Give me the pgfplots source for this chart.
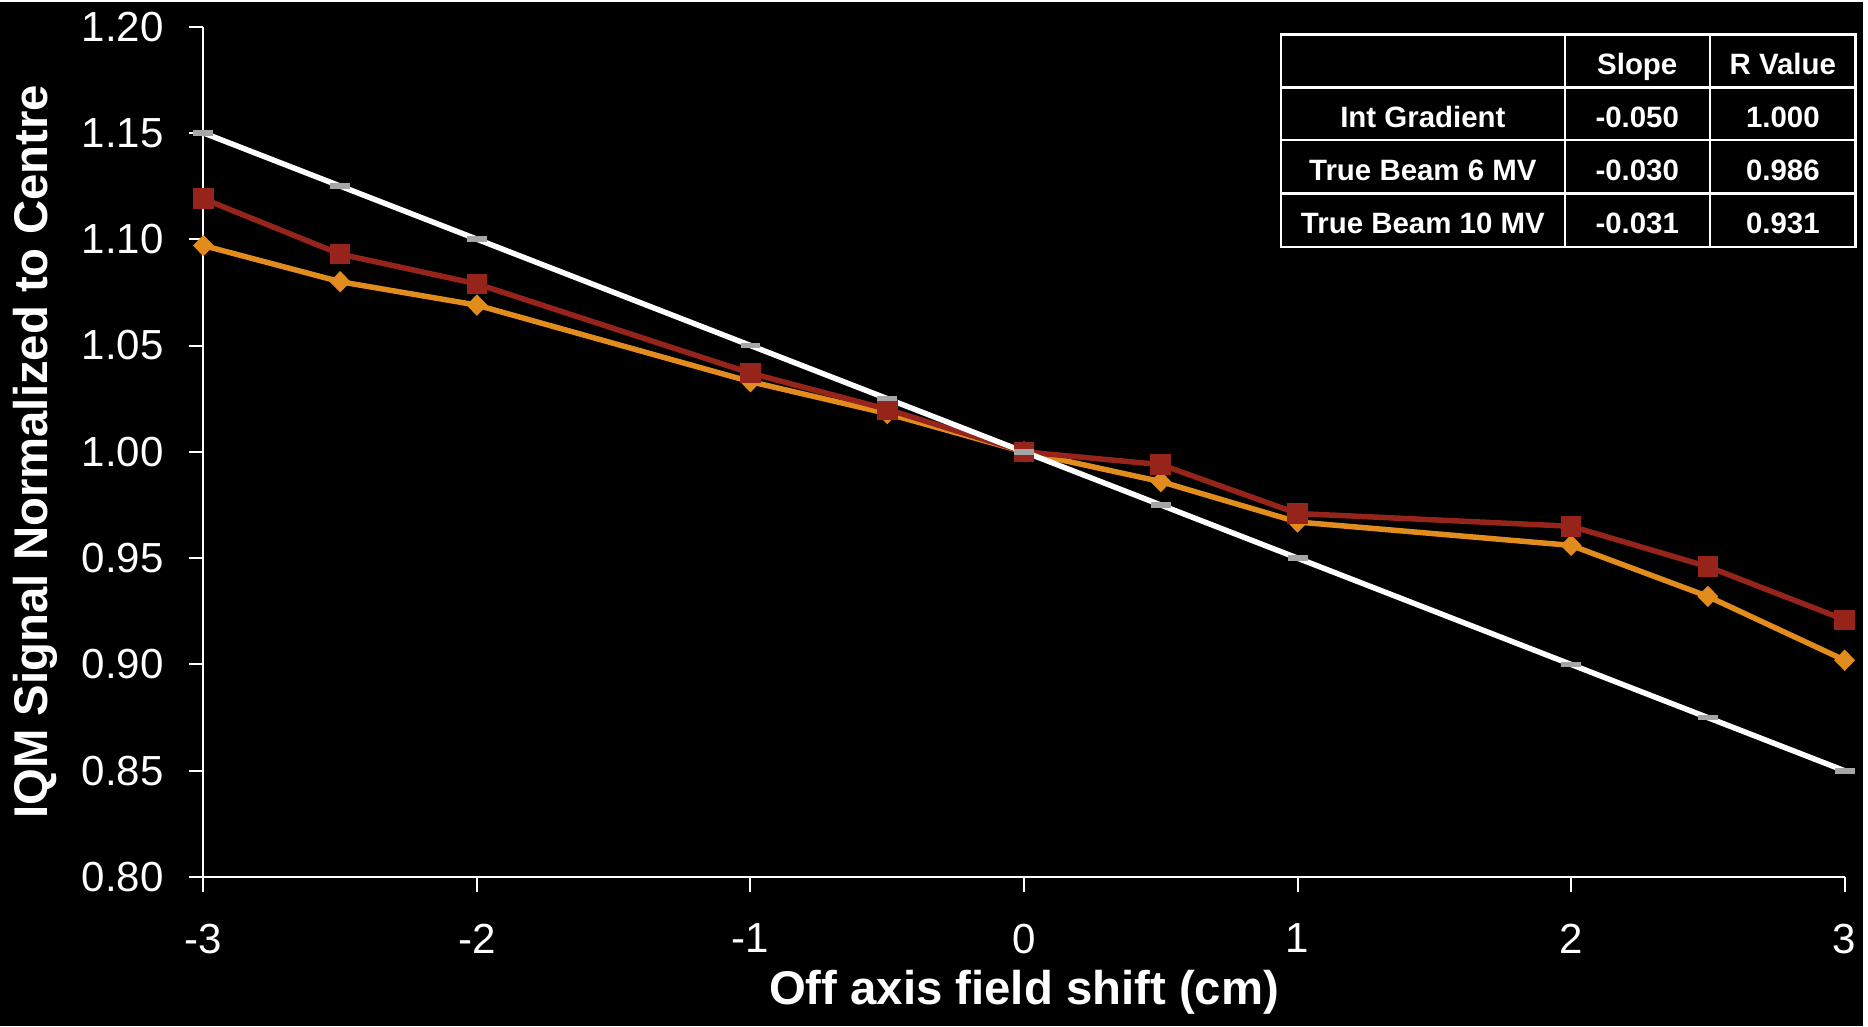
\documentclass[border=0pt]{standalone}
\usepackage{pgfplots}
\pgfplotsset{compat=1.18}
\usepackage{fontspec}
\setmainfont{Liberation Sans}
\definecolor{redS}{RGB}{150,36,26}
\definecolor{orS}{RGB}{226,140,30}
\definecolor{grayM}{RGB}{166,166,166}
\pgfplotstableread{
x    grad   tb6    tb10
-3   1.150  1.119  1.097
-2.5 1.125  1.093  1.080
-2   1.100  1.079  1.069
-1   1.050  1.037  1.033
-0.5 1.025  1.020  1.018
0    1.000  1.000  1.000
0.5  0.975  0.994  0.986
1    0.950  0.971  0.967
2    0.900  0.965  0.956
2.5  0.875  0.946  0.932
3    0.850  0.921  0.902
}\datatab
\begin{document}
\begin{tikzpicture}
\fill[black] (-20.4mm,-14.9mm) rectangle (166.4mm,87.8mm);
\begin{axis}[
 scale only axis, width=164.6mm, height=85.3mm,
 xmin=-3, xmax=3, ymin=0.8, ymax=1.2,
 axis x line*=bottom, axis y line*=left,
 axis line style={white, line width=0.2mm, -},
 xtick={-3,-2,-1,0,1,2,3},
 ytick={0.8,0.85,0.9,0.95,1.0,1.05,1.1,1.15,1.2},
 tick align=outside, major tick length=1.45mm,
 tick style={white, line width=0.2mm},
 /pgf/number format/assume math mode=true,
 ticklabel style={font=\fontsize{12}{14}\selectfont, text=white},
 y tick label style={xshift=-1.3mm, /pgf/number format/.cd, fixed, fixed zerofill, precision=2, /tikz/.cd},
 x tick label style={yshift=-2mm},
 xlabel={\textcolor{white}{Off axis field shift (cm)}},
 ylabel={\textcolor{white}{IQM Signal Normalized to Centre}},
 xlabel style={font=\bfseries\fontsize{13.5}{16}\selectfont, at={(rel axis cs:0.5,0)}, yshift=-11.6mm, anchor=center},
 ylabel style={font=\bfseries\fontsize{13.5}{16}\selectfont, at={(rel axis cs:0,0.5)}, yshift=16.9mm, anchor=center},
 clip=false,
]
\addplot[orS, line width=0.55mm, mark=diamond*, mark size=2.85pt, mark options={fill=orS, draw=orS, line width=0.1mm, xscale=1.3}] table[x=x, y=tb10] {\datatab};
\addplot[redS, line width=0.55mm, mark=square*, mark size=2.8pt, mark options={fill=redS, draw=redS, line width=0.1mm}] table[x=x, y=tb6] {\datatab};
\addplot[white, line width=0.55mm, mark=-, mark size=1.0mm, mark options={draw=grayM, line width=0.55mm}] table[x=x, y=grad] {\datatab};
\end{axis}
\begin{scope}[white, line width=0.25mm]
\draw (108.05mm,63.2mm) rectangle (165.7mm,84.5mm);
\draw (108.05mm,79.2mm) -- (165.7mm,79.2mm);
\draw (108.05mm,73.9mm) -- (165.7mm,73.9mm);
\draw (108.05mm,68.57mm) -- (165.7mm,68.57mm);
\draw (136.54mm,63.2mm) -- (136.54mm,84.5mm);
\draw (151.07mm,63.2mm) -- (151.07mm,84.5mm);
\end{scope}
\begin{scope}[every node/.style={text=white, font=\bfseries\fontsize{8.4}{10}\selectfont, anchor=base, inner sep=0pt}]
\node at (143.8mm,80.5mm) {Slope};
\node at (158.4mm,80.5mm) {R Value};
\node at (122.3mm,75.2mm) {Int Gradient};
\node at (143.8mm,75.2mm) {-0.050};
\node at (158.4mm,75.2mm) {1.000};
\node at (122.3mm,69.87mm) {True Beam 6 MV};
\node at (143.8mm,69.87mm) {-0.030};
\node at (158.4mm,69.87mm) {0.986};
\node at (122.3mm,64.5mm) {True Beam 10 MV};
\node at (143.8mm,64.5mm) {-0.031};
\node at (158.4mm,64.5mm) {0.931};
\end{scope}
\end{tikzpicture}
\end{document}
